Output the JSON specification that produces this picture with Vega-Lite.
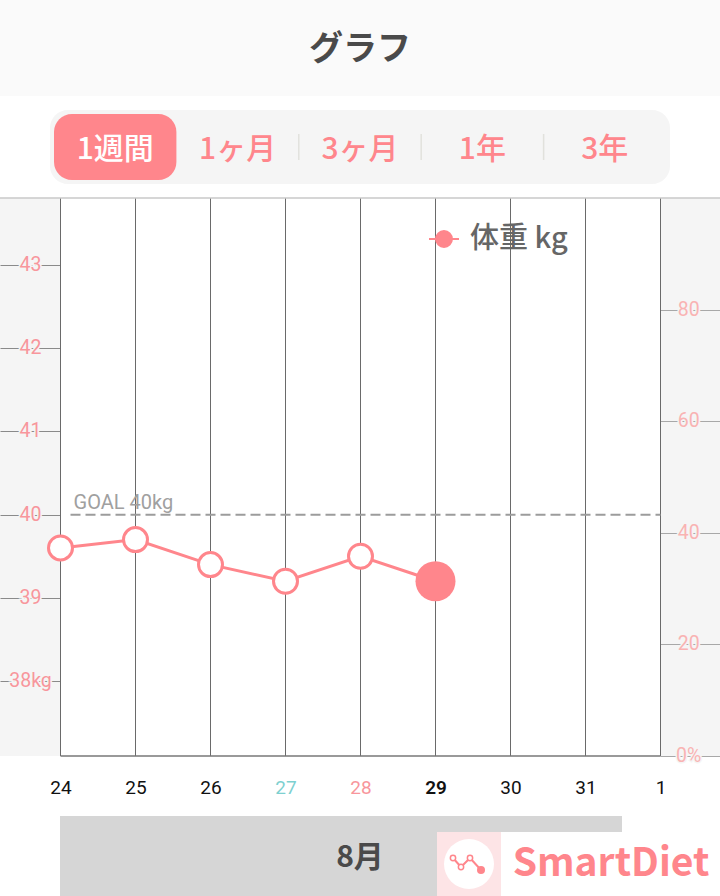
{
"$schema":"https://vega.github.io/schema/vega-lite/v6.json",
"padding":{"left":-1,"top":0,"right":0,"bottom":0},"autosize":{"type":"pad"},"background":"white",
"spacing":0,"bounds":"flush",
"datasets":{
"days":[{"date":"2022-08-24T00:00:00Z"},{"date":"2022-08-25T00:00:00Z"},{"date":"2022-08-26T00:00:00Z"},{"date":"2022-08-27T00:00:00Z"},{"date":"2022-08-28T00:00:00Z"},{"date":"2022-08-29T00:00:00Z"},{"date":"2022-08-30T00:00:00Z"},{"date":"2022-08-31T00:00:00Z"},{"date":"2022-09-01T00:00:00Z"}],
"weight":[
{"date":"2022-08-24T00:00:00Z","kg":39.6,"series":"体重 kg","latest":false},
{"date":"2022-08-25T00:00:00Z","kg":39.7,"series":"体重 kg","latest":false},
{"date":"2022-08-26T00:00:00Z","kg":39.4,"series":"体重 kg","latest":false},
{"date":"2022-08-27T00:00:00Z","kg":39.2,"series":"体重 kg","latest":false},
{"date":"2022-08-28T00:00:00Z","kg":39.5,"series":"体重 kg","latest":false},
{"date":"2022-08-29T00:00:00Z","kg":39.2,"series":"体重 kg","latest":true}],
"kgTicks":[{"kg":43,"label":"43","at":"2022-08-23T14:24:00Z"},{"kg":42,"label":"42","at":"2022-08-23T14:24:00Z"},{"kg":41,"label":"41","at":"2022-08-23T14:24:00Z"},{"kg":40,"label":"40","at":"2022-08-23T14:24:00Z"},{"kg":39,"label":"39","at":"2022-08-23T14:24:00Z"},{"kg":38,"label":"38kg","at":"2022-08-23T14:24:00Z"}],
"pctTicks":[{"pct":80,"label":"80","at":"2022-09-01T09:00:00Z"},{"pct":60,"label":"60","at":"2022-09-01T09:00:00Z"},{"pct":40,"label":"40","at":"2022-09-01T09:00:00Z"},{"pct":20,"label":"20","at":"2022-09-01T09:00:00Z"},{"pct":0,"label":"0%","at":"2022-09-01T09:00:00Z"}],
"tabs":[{"i":0.5,"label":"1週間","on":true},{"i":1.5,"label":"1ヶ月","on":false},{"i":2.5,"label":"3ヶ月","on":false},{"i":3.5,"label":"1年","on":false},{"i":4.5,"label":"3年","on":false}],
"glyph":[{"u":453,"v":102,"last":false},{"u":461,"v":111,"last":false},{"u":470,"v":102,"last":false},{"u":481,"v":114,"last":true}]
},
"vconcat":[
{"width":720,"height":96,"view":{"fill":"#fafafa","stroke":null},
 "data":{"values":[{"t":"グラフ"}]},
 "mark":{"type":"text","font":"Noto Sans CJK JP","fontWeight":700,"fontSize":34,"color":"#4a4a4a","dy":2},
 "encoding":{"text":{"field":"t"}}},
{"width":720,"height":102,"view":{"fill":"white","stroke":null},
 "layer":[
 {"data":{"values":[{"a":-0.033,"b":5.033}]},"mark":{"type":"bar","height":74,"cornerRadius":18,"color":"#f5f5f5"},
  "encoding":{"x":{"field":"a","type":"quantitative","scale":{"domain":[-0.4412,5.4412]},"axis":null},"x2":{"field":"b"}}},
 {"data":{"values":[{"a":0,"b":1}]},"mark":{"type":"bar","height":66,"cornerRadius":18,"color":"#ff868c"},
  "encoding":{"x":{"field":"a","type":"quantitative","scale":{"domain":[-0.4412,5.4412]},"axis":null},"x2":{"field":"b"}}},
 {"data":{"values":[{"a":2},{"a":3},{"a":4}]},"mark":{"type":"tick","orient":"vertical","size":26,"thickness":1.5,"color":"#d8d8d2"},
  "encoding":{"x":{"field":"a","type":"quantitative","scale":{"domain":[-0.4412,5.4412]},"axis":null}}},
 {"data":{"name":"tabs"},"mark":{"type":"text","font":"Noto Sans CJK JP","fontWeight":500,"fontSize":30,"dy":3},
  "encoding":{"x":{"field":"i","type":"quantitative","scale":{"domain":[-0.4412,5.4412]},"axis":null},"text":{"field":"label"},
   "color":{"condition":{"test":"datum.on","value":"#ffffff"},"value":"#ff868c"}}}
 ]},
{"width":720,"height":558,"view":{"fill":"#f5f5f5","stroke":null},
 "resolve":{"scale":{"y":"independent"},"axis":{"x":"independent"}},
 "layer":[
  {"data":{"name":"pctTicks"},"mark":{"type":"text","font":"Roboto","fontSize":19.5,"stroke":"#f5f5f5","strokeWidth":3,"color":"#f5f5f5"},
   "encoding":{"x":{"field":"at","type":"temporal","scale":{"type":"utc","domain":["2022-08-23T04:38:24Z","2022-09-01T19:02:24Z"]},"axis":null},
    "y":{"field":"pct","type":"quantitative","scale":{"domain":[0,100]},
     "axis":{"orient":"right","offset":-60,"values":[0,20,40,60,80],"tickSize":60,"tickColor":"#a8a8a8","domain":false,"labels":false,"title":null,"grid":false,"zindex":0}},
    "text":{"field":"label"}}},
  {"data":{"name":"pctTicks"},"mark":{"type":"text","font":"Roboto","fontSize":19.5,"color":"#f9b3b3"},
   "encoding":{"x":{"field":"at","type":"temporal","scale":{"type":"utc","domain":["2022-08-23T04:38:24Z","2022-09-01T19:02:24Z"]},"axis":null},
    "y":{"field":"pct","type":"quantitative","scale":{"domain":[0,100]},"axis":null},
    "text":{"field":"label"}}},
  {"data":{"values":[{"a":"2022-08-24T00:00:00Z","b":"2022-09-01T00:00:00Z"}]},"mark":{"type":"rect","color":"white"},
   "encoding":{"x":{"field":"a","type":"temporal","scale":{"type":"utc","domain":["2022-08-23T04:38:24Z","2022-09-01T19:02:24Z"]},"axis":null},"x2":{"field":"b"}}},
  {"data":{"name":"days"},"mark":{"type":"rule","color":"#6a6a6a","strokeWidth":1},
   "encoding":{"x":{"field":"date","type":"temporal","scale":{"type":"utc","domain":["2022-08-23T04:38:24Z","2022-09-01T19:02:24Z"]},
    "axis":{"orient":"bottom","title":null,"domain":false,"ticks":false,"grid":false,"labelPadding":22,"labelFont":"Roboto","labelFontSize":19,"labelFlush":false,"labelOverlap":false,
     "values":[{"year":2022,"month":8,"date":24,"utc":true},{"year":2022,"month":8,"date":25,"utc":true},{"year":2022,"month":8,"date":26,"utc":true},{"year":2022,"month":8,"date":27,"utc":true},{"year":2022,"month":8,"date":28,"utc":true},{"year":2022,"month":8,"date":29,"utc":true},{"year":2022,"month":8,"date":30,"utc":true},{"year":2022,"month":8,"date":31,"utc":true},{"year":2022,"month":9,"date":1,"utc":true}],
     "labelExpr":"utcdate(datum.value)",
     "labelColor":{"condition":[{"test":"utcdate(datum.value)==27","value":"#7ed0d0"},{"test":"utcdate(datum.value)==28","value":"#f8969c"}],"value":"#111111"},
     "labelFontWeight":{"condition":{"test":"utcdate(datum.value)==29","value":600},"value":400}}}}},
  {"data":{"values":[{"a":"2022-08-23T04:38:24Z","b":"2022-09-01T19:02:24Z","kg":43.805}]},"mark":{"type":"rule","color":"#c8c8c8","strokeWidth":1.5},
   "encoding":{"x":{"field":"a","type":"temporal","scale":{"type":"utc","domain":["2022-08-23T04:38:24Z","2022-09-01T19:02:24Z"]},"axis":null},"x2":{"field":"b"},
    "y":{"field":"kg","type":"quantitative","scale":{"domain":[37.1,43.805]},"axis":null}}},
  {"data":{"values":[{"a":"2022-08-24T00:00:00Z","b":"2022-09-01T00:00:00Z","kg":37.1}]},"mark":{"type":"rule","color":"#777777","strokeWidth":1.5},
   "encoding":{"x":{"field":"a","type":"temporal","scale":{"type":"utc","domain":["2022-08-23T04:38:24Z","2022-09-01T19:02:24Z"]},"axis":null},"x2":{"field":"b"},
    "y":{"field":"kg","type":"quantitative","scale":{"domain":[37.1,43.805]},"axis":null}}},
  {"data":{"values":[{"a":"2022-08-24T03:12:00Z","b":"2022-09-01T00:00:00Z","kg":40}]},"mark":{"type":"rule","color":"#9c9c9c","strokeWidth":2,"strokeDash":[10,5]},
   "encoding":{"x":{"field":"a","type":"temporal","scale":{"type":"utc","domain":["2022-08-23T04:38:24Z","2022-09-01T19:02:24Z"]},"axis":null},"x2":{"field":"b"},
    "y":{"field":"kg","type":"quantitative","scale":{"domain":[37.1,43.805]},"axis":null}}},
  {"data":{"values":[{"a":"2022-08-24T04:10:00Z","kg":40.145,"t":"GOAL 40kg"}]},"mark":{"type":"text","font":"Roboto","fontSize":20,"align":"left","color":"#a0a0a0"},
   "encoding":{"x":{"field":"a","type":"temporal","scale":{"type":"utc","domain":["2022-08-23T04:38:24Z","2022-09-01T19:02:24Z"]},"axis":null},
    "y":{"field":"kg","type":"quantitative","scale":{"domain":[37.1,43.805]},"axis":null},"text":{"field":"t"}}},
  {"data":{"name":"kgTicks"},"mark":{"type":"text","font":"Roboto","fontSize":19.5,"stroke":"#f5f5f5","strokeWidth":3,"color":"#f5f5f5"},
   "encoding":{"x":{"field":"at","type":"temporal","scale":{"type":"utc","domain":["2022-08-23T04:38:24Z","2022-09-01T19:02:24Z"]},"axis":null},
    "y":{"field":"kg","type":"quantitative","scale":{"domain":[37.1,43.805]},
     "axis":{"orient":"left","offset":-60,"values":[38,39,40,41,42,43],"tickSize":60,"tickColor":"#8a8a8a","domain":false,"labels":false,"title":null,"grid":false,"zindex":0}},
    "text":{"field":"label"}}},
  {"data":{"name":"kgTicks"},"mark":{"type":"text","font":"Roboto","fontSize":19.5,"color":"#f8969c"},
   "encoding":{"x":{"field":"at","type":"temporal","scale":{"type":"utc","domain":["2022-08-23T04:38:24Z","2022-09-01T19:02:24Z"]},"axis":null},
    "y":{"field":"kg","type":"quantitative","scale":{"domain":[37.1,43.805]},"axis":null},"text":{"field":"label"}}},
  {"data":{"name":"weight"},"mark":{"type":"line","strokeWidth":3},
   "encoding":{"x":{"field":"date","type":"temporal","scale":{"type":"utc","domain":["2022-08-23T04:38:24Z","2022-09-01T19:02:24Z"]},"axis":null},
    "y":{"field":"kg","type":"quantitative","scale":{"domain":[37.1,43.805]},"axis":null},
    "color":{"field":"series","type":"nominal","scale":{"range":["#ff868c"]},
     "legend":{"title":null,"orient":"none","legendX":428,"legendY":223,"symbolType":"M-1,0L1,0M-0.53,0A0.53,0.53 0 1,1 0.53,0A0.53,0.53 0 1,1 -0.53,0Z","symbolSize":900,"symbolFillColor":"#ff868c","symbolStrokeWidth":2,"labelFont":"Noto Sans CJK JP","labelFontWeight":500,"labelFontSize":29,"labelColor":"#666666","labelOffset":10,"labelLimit":200}}}},
  {"data":{"name":"weight"},"transform":[{"filter":"!datum.latest"}],"mark":{"type":"point","shape":"circle","filled":true,"fill":"white","stroke":"#ff868c","strokeWidth":3,"size":576,"opacity":1},
   "encoding":{"x":{"field":"date","type":"temporal","scale":{"type":"utc","domain":["2022-08-23T04:38:24Z","2022-09-01T19:02:24Z"]},"axis":null},
    "y":{"field":"kg","type":"quantitative","scale":{"domain":[37.1,43.805]},"axis":null}}},
  {"data":{"name":"weight"},"transform":[{"filter":"datum.latest"}],"mark":{"type":"point","shape":"circle","filled":true,"fill":"#ff868c","size":1600,"opacity":1},
   "encoding":{"x":{"field":"date","type":"temporal","scale":{"type":"utc","domain":["2022-08-23T04:38:24Z","2022-09-01T19:02:24Z"]},"axis":null},
    "y":{"field":"kg","type":"quantitative","scale":{"domain":[37.1,43.805]},"axis":null}}}
 ]},
{"width":720,"height":140,"view":{"fill":null,"stroke":null},
 "layer":[
 {"data":{"values":[{"a":60,"b":622,"c":60,"d":140}]},"mark":{"type":"rect","color":"#d6d6d6"},
  "encoding":{"x":{"field":"a","type":"quantitative","scale":{"domain":[0,720]},"axis":null},"x2":{"field":"b"},"y":{"field":"c","type":"quantitative","scale":{"domain":[140,0]},"axis":null},"y2":{"field":"d"}}},
 {"data":{"values":[{"a":360,"c":100,"t":"8月"}]},"mark":{"type":"text","font":"Noto Sans CJK JP","fontWeight":700,"fontSize":30,"color":"#4a4a4a","dy":2},
  "encoding":{"x":{"field":"a","type":"quantitative","scale":{"domain":[0,720]},"axis":null},"y":{"field":"c","type":"quantitative","scale":{"domain":[140,0]},"axis":null},"text":{"field":"t"}}},
 {"data":{"values":[{"a":437,"b":720,"c":76,"d":140}]},"mark":{"type":"rect","color":"white"},
  "encoding":{"x":{"field":"a","type":"quantitative","scale":{"domain":[0,720]},"axis":null},"x2":{"field":"b"},"y":{"field":"c","type":"quantitative","scale":{"domain":[140,0]},"axis":null},"y2":{"field":"d"}}},
 {"data":{"values":[{"a":437,"b":501,"c":76,"d":140}]},"mark":{"type":"rect","color":"#fde4e6"},
  "encoding":{"x":{"field":"a","type":"quantitative","scale":{"domain":[0,720]},"axis":null},"x2":{"field":"b"},"y":{"field":"c","type":"quantitative","scale":{"domain":[140,0]},"axis":null},"y2":{"field":"d"}}},
 {"data":{"values":[{"u":469,"v":108}]},"mark":{"type":"point","shape":"circle","filled":true,"fill":"white","size":2500,"opacity":1},
  "encoding":{"x":{"field":"u","type":"quantitative","scale":{"domain":[0,720]},"axis":null},"y":{"field":"v","type":"quantitative","scale":{"domain":[140,0]},"axis":null}}},
 {"data":{"name":"glyph"},"mark":{"type":"line","color":"#ff868c","strokeWidth":2},
  "encoding":{"x":{"field":"u","type":"quantitative","scale":{"domain":[0,720]},"axis":null},"y":{"field":"v","type":"quantitative","scale":{"domain":[140,0]},"axis":null}}},
 {"data":{"name":"glyph"},"transform":[{"filter":"!datum.last"}],"mark":{"type":"point","shape":"circle","filled":true,"fill":"white","stroke":"#ff868c","strokeWidth":1.5,"size":28,"opacity":1},
  "encoding":{"x":{"field":"u","type":"quantitative","scale":{"domain":[0,720]},"axis":null},"y":{"field":"v","type":"quantitative","scale":{"domain":[140,0]},"axis":null}}},
 {"data":{"name":"glyph"},"transform":[{"filter":"datum.last"}],"mark":{"type":"point","shape":"circle","filled":true,"fill":"#ff868c","size":64,"opacity":1},
  "encoding":{"x":{"field":"u","type":"quantitative","scale":{"domain":[0,720]},"axis":null},"y":{"field":"v","type":"quantitative","scale":{"domain":[140,0]},"axis":null}}},
 {"data":{"values":[{"u":611,"v":107,"t":"SmartDiet"}]},"mark":{"type":"text","font":"Noto Sans CJK JP","fontWeight":700,"fontSize":39,"color":"#ff868c","dy":1},
  "encoding":{"x":{"field":"u","type":"quantitative","scale":{"domain":[0,720]},"axis":null},"y":{"field":"v","type":"quantitative","scale":{"domain":[140,0]},"axis":null},"text":{"field":"t"}}}
 ]}
]
}
